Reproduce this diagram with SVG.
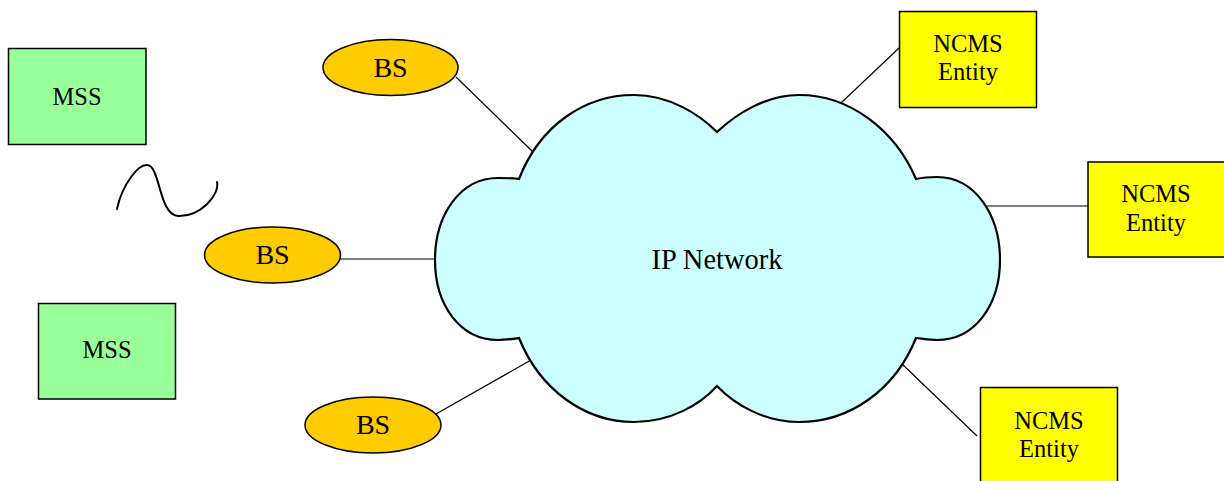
<svg xmlns="http://www.w3.org/2000/svg" width="1224" height="481" viewBox="0 0 1224 481">
  <style>
    .lbl { font-family: "Liberation Serif", "Times New Roman", serif; fill: #000; text-anchor: middle; }
    .mss { fill: #99FF99; stroke: #000; stroke-width: 1.5; }
    .ncms { fill: #FFFF00; stroke: #000; stroke-width: 1.5; }
    .bs { fill: #FFCC00; stroke: #000; stroke-width: 1.5; }
    .link { stroke: #000; stroke-width: 1.2; fill: none; }
  </style>
  <rect width="1224" height="481" fill="#fff"/>

  <!-- connectors -->
  <g id="connectors">
    <line class="link" x1="456" y1="77" x2="533" y2="152"/>
    <line class="link" x1="340" y1="259" x2="436" y2="259"/>
    <line class="link" x1="436" y1="414" x2="531" y2="360"/>
    <line class="link" x1="899" y1="48" x2="841" y2="103"/>
    <line class="link" x1="983" y1="206" x2="1088" y2="206"/>
    <line class="link" x1="901" y1="363" x2="977" y2="436"/>
  </g>

  <!-- central cloud -->
  <g id="ip-network">
    <path d="M519,179 C540,125 585,95 634,95 C670,95 700,115 717,132 C735,115 765,95 799,95 C850,95 895,130 916,179 C925,177 930,177 937,177 C975,177 1000,215 1000,260 C1000,305 975,340 937,340 C930,340 925,339 916,338 C895,390 850,422 799,422 C765,422 735,405 717,386 C700,405 670,422 634,422 C585,422 540,390 519,338 C512,339 506,340 498,340 C460,340 435,305 435,260 C435,215 460,178 498,178 C506,178 512,178 519,179 Z" fill="#CCFFFF" stroke="#000" stroke-width="2.2"/>
    <text class="lbl" x="717" y="269" font-size="28.5">IP Network</text>
  </g>

  <!-- base stations -->
  <g id="bs-top">
    <ellipse class="bs" cx="390.5" cy="67.5" rx="67.5" ry="28"/>
    <text class="lbl" x="390.5" y="77" font-size="28">BS</text>
  </g>
  <g id="bs-middle">
    <ellipse class="bs" cx="272.5" cy="255" rx="68" ry="28"/>
    <text class="lbl" x="272.5" y="264" font-size="28">BS</text>
  </g>
  <g id="bs-bottom">
    <ellipse class="bs" cx="373" cy="425" rx="68" ry="28"/>
    <text class="lbl" x="373" y="434" font-size="28">BS</text>
  </g>

  <!-- mobile subscriber stations -->
  <g id="mss-top">
    <rect class="mss" x="8.5" y="48.5" width="137.5" height="96"/>
    <text class="lbl" x="77" y="105" font-size="24.5">MSS</text>
  </g>
  <g id="mss-bottom">
    <rect class="mss" x="38.5" y="303.5" width="137" height="95.5"/>
    <text class="lbl" x="107" y="358" font-size="24.5">MSS</text>
  </g>

  <!-- radio link -->
  <g id="radio-wave">
    <path d="M117,209 C122,185 140,160 150,166 C160,172 160,215 178,216 C200,217 220,195 217,182" fill="none" stroke="#000" stroke-width="2" stroke-linecap="round"/>
  </g>

  <!-- NCMS entities -->
  <g id="ncms-top">
    <rect class="ncms" x="899.5" y="11.5" width="137" height="96"/>
    <text class="lbl" x="968" y="52" font-size="24.5">NCMS</text>
    <text class="lbl" x="968" y="80" font-size="24.5">Entity</text>
  </g>
  <g id="ncms-middle">
    <rect class="ncms" x="1088" y="162" width="137" height="95"/>
    <text class="lbl" x="1156" y="202" font-size="24.5">NCMS</text>
    <text class="lbl" x="1156" y="231" font-size="24.5">Entity</text>
  </g>
  <g id="ncms-bottom">
    <rect class="ncms" x="980.5" y="387.5" width="137" height="100"/>
    <text class="lbl" x="1049" y="429" font-size="24.5">NCMS</text>
    <text class="lbl" x="1049" y="457" font-size="24.5">Entity</text>
  </g>
</svg>
